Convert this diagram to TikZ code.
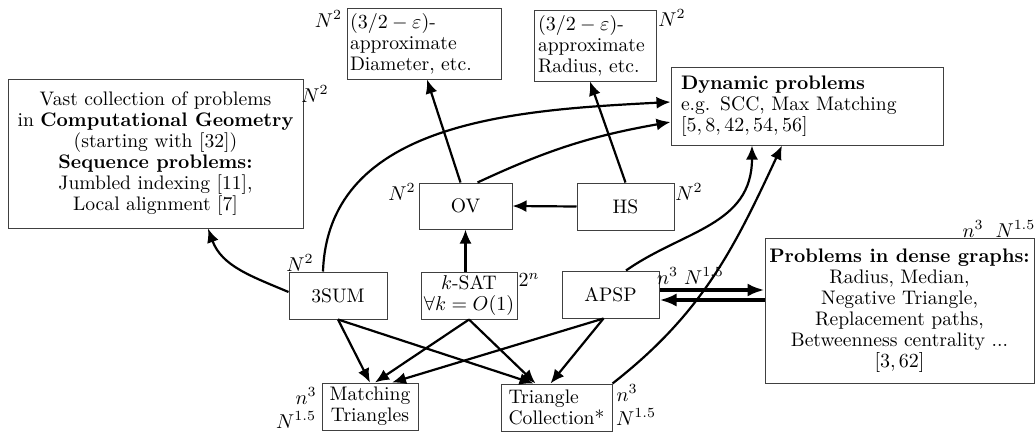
\documentclass[tikz,border=0pt]{standalone}
\usetikzlibrary{arrows.meta,calc}
\begin{document}
\begin{tikzpicture}[x=0.5pt,y=-0.5pt,
  font=\fontsize{9.8pt}{10.5pt}\selectfont,
  box/.style={draw=black!75, line width=0.5pt, inner sep=1pt},
  lab/.style={inner sep=0pt},
  arr/.style={-{Latex[length=7pt,width=6pt]}, line width=1.1pt},
  tarr/.style={-{Latex[length=8.5pt,width=6.5pt]}, line width=2pt}]
\useasboundingbox (0,0) rectangle (1035,434);

% boxes
\node[box, minimum width=147.5pt, minimum height=74.5pt, align=center] (cg) at (155.5,153.5)
  {Vast collection of problems\\ in \textbf{Computational Geometry}\\ (starting with [32])\\ \textbf{Sequence problems:}\\ Jumbled indexing [11],\\ Local alignment [7]};
\node[box, inner xsep=1.5pt, text width=74pt, minimum height=35.5pt, align=left] (diam) at (424,43.5)
  {$(3/2-\varepsilon)$-\\approximate\\Diameter, etc.};
\node[box, inner xsep=2pt, text width=57pt, minimum height=35.5pt, align=left] (rad) at (595,45.5)
  {$(3/2-\varepsilon)$-\\approximate\\Radius, etc.};
\node[box, inner xsep=5pt, text width=126pt, minimum height=39pt, align=left] (dyn) at (807,106)
  {\textbf{Dynamic problems}\\ e.g. SCC, Max Matching\\ $[5, 8, 42, 54, 56]$};
\node[box, minimum width=46.5pt, minimum height=23pt] (ov) at (465.5,206) {OV};
\node[box, minimum width=48.5pt, minimum height=23.5pt] (hs) at (625.5,206.5) {HS};
\node[box, minimum width=49pt, minimum height=23.5pt] (sum) at (338,295.5) {3SUM};
\node[box, minimum width=48pt, minimum height=23.5pt, align=center] (ksat) at (469,295.5)
  {$k$-SAT\\ $\forall k = O(1)$};
\node[box, minimum width=48.5pt, minimum height=23.5pt] (apsp) at (610.5,294.5) {APSP};
\node[box, minimum width=134.5pt, minimum height=72.5pt, align=center] (dense) at (899.5,310.5)
  {\textbf{Problems in dense graphs:}\\ Radius, Median,\\ Negative Triangle,\\ Replacement paths,\\ Betweenness centrality ...\\ $[3, 62]$};
\node[box, minimum width=48pt, minimum height=23.5pt, align=center] (mt) at (370,406.5)
  {Matching\\ Triangles};
\node[box, minimum width=55.5pt, minimum height=23.5pt, align=left] (tc) at (556.5,407.5)
  {Triangle\\ Collection*};

% complexity labels
\node[lab] (ldiam) at (328.5,19) {$N^2$};
\node[lab] (lcg) at (315,94) {$N^2$};
\node[lab] (lov) at (402,192) {$N^2$};
\node[lab] (lrad) at (672,18) {$N^2$};
\node[lab] (lhs) at (689,192) {$N^2$};
\node[lab] (lsum) at (300,263) {$N^2$};
\node[lab] (lksat) at (529,280) {$2^n$};
\node[lab] (lapsp) at (690.5,276) {$n^3\hspace{3pt}N^{1.5}$};
\node[lab] (ldense) at (999,229) {$n^3\hspace{6pt}N^{1.5}$};
\node[lab] (lmt1) at (306,396) {$n^3$};
\node[lab] (lmt2) at (296,420) {$N^{1.5}$};
\node[lab] (ltc1) at (627,393) {$n^3$};
\node[lab] (ltc2) at (636,417) {$N^{1.5}$};

% connectors
\draw[arr] (hs.west) -- (ov.east);
\draw[arr] ($(ov.north)+(-5,0)$) -- ($(diam.south)+(3,0)$);
\draw[arr] (hs.north) -- ($(rad.south)+(-5,0)$);
\draw[arr] (ov.south |- ksat.north) -- (ov.south);
\draw[arr] ($(ov.north)+(12,0)$) to[out=25,in=190] ($(dyn.west)+(0,16)$);
\draw[arr] ($(sum.north)+(-15,0)$) to[out=88,in=183] ($(dyn.west)+(0,-4)$);
\draw[arr] ($(sum.west)+(0,-3.5)$) to[out=157,in=-70] ($(cg.south)+(52.5,0)$);
\draw[arr] ($(apsp.north)+(15.5,0)$) to[out=35,in=-90,out distance=35pt,in distance=40pt] ($(dyn.south)+(-55,0)$);
\draw[arr] (tc.north east) to[out=38,in=-115] ($(dyn.south)+(-25,0)$);

\draw[arr] (sum.south) -- (mt.north);
\draw[arr] (sum.south) -- ($(tc.north)+(-23,0)$);
\draw[arr] (ksat.south) -- ($(mt.north)+(5,0)$);
\draw[arr] (ksat.south) -- ($(tc.north)+(-21,0)$);
\draw[arr] ($(apsp.south)+(-7,0)$) -- ($(mt.north)+(22,0)$);
\draw[arr] ($(apsp.south)+(-7,0)$) -- ($(tc.north)+(-6,0)$);

\coordinate (t1) at ($(apsp.east)+(0,-4.5)$);
\coordinate (t2) at ($(apsp.east)+(0,5.5)$);
\draw[tarr] (t1) -- (t1 -| dense.west);
\draw[tarr] (t2 -| dense.west) -- (t2);
\end{tikzpicture}
\end{document}
